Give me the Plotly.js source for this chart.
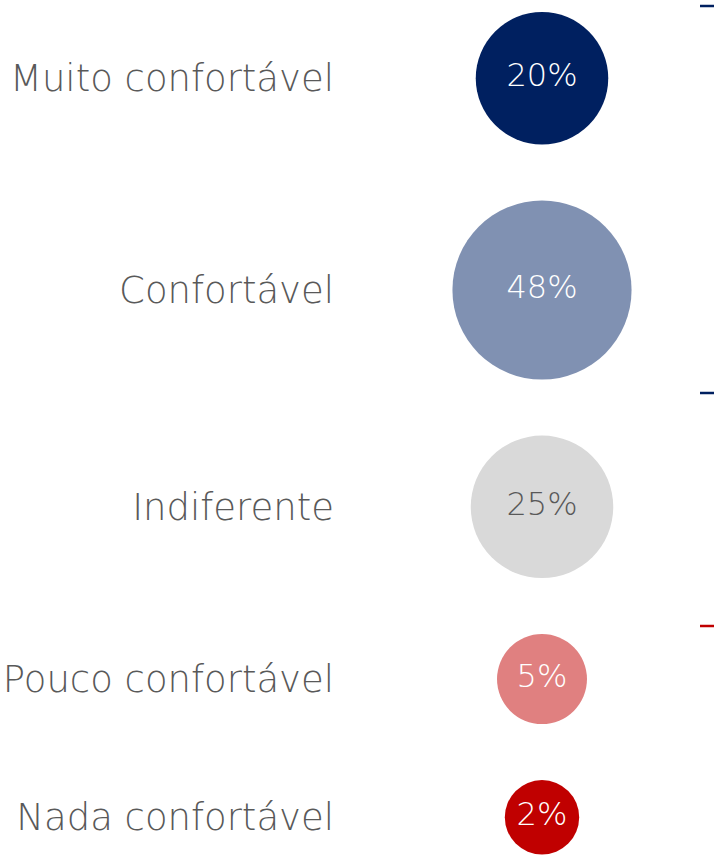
<!DOCTYPE html>
<html><head><meta charset="utf-8">
<script src="https://cdn.plot.ly/plotly-3.0.1.min.js"></script>
<style>html,body{margin:0;padding:0;background:#fff;}#chart{width:714px;height:859px;}</style>
</head><body><div id="chart"></div>
<script>
const categories = ["Muito confortável", "Confortável", "Indiferente", "Pouco confortável", "Nada confortável"];
const shares = [20, 48, 25, 5, 2];
const bubbleColors = ["#002060", "#8091B2", "#D9D9D9", "#E08080", "#C00000"];
const textColors = ["#FFFFFF", "#FFFFFF", "#595959", "#FFFFFF", "#FFFFFF"];

const W = 714, H = 859, L = 335;
const gap = 56, top0 = 12;
// bubble diameter grows with sqrt of share
const diam = shares.map(v => 47.5 + 19 * Math.sqrt(v));
const yc = [];
let cur = top0;
diam.forEach(d => { yc.push(cur + d / 2); cur += d + gap; });
const xs = shares.map(() => 0);

const trace = {
  type: "scatter", mode: "markers+text",
  x: xs, y: yc,
  text: shares.map(v => v + "%"),
  textposition: "middle center",
  textfont: {family: "DejaVu Sans, sans-serif", size: 32, weight: 300, color: textColors},
  marker: {size: diam, sizemode: "diameter", color: bubbleColors, opacity: 1, line: {width: 0}},
  hoverinfo: "skip", cliponaxis: false
};

const dash = (y, c) => ({type: "line", xref: "x", yref: "y", x0: 700 - 542, x1: 714 - 542, y0: y, y1: y, line: {color: c, width: 2.5}});

const layout = {
  width: W, height: H,
  margin: {l: L, r: 0, t: 0, b: 0, pad: 0},
  paper_bgcolor: "#fff", plot_bgcolor: "#fff",
  showlegend: false,
  xaxis: {range: [L - 542, W - 542], visible: false, fixedrange: true},
  yaxis: {range: [H, 0], tickvals: yc, ticktext: categories, showgrid: false, zeroline: false,
          showline: false, ticks: "", ticklabelstandoff: 0,
          tickfont: {family: "DejaVu Sans, sans-serif", size: 37, weight: 300, color: "#595959"}, automargin: false},
  shapes: [dash(6, "#002060"), dash(393, "#002060"), dash(626, "#C00000")]
};
Plotly.newPlot("chart", [trace], layout, {displayModeBar: false, staticPlot: true});
</script></body></html>
